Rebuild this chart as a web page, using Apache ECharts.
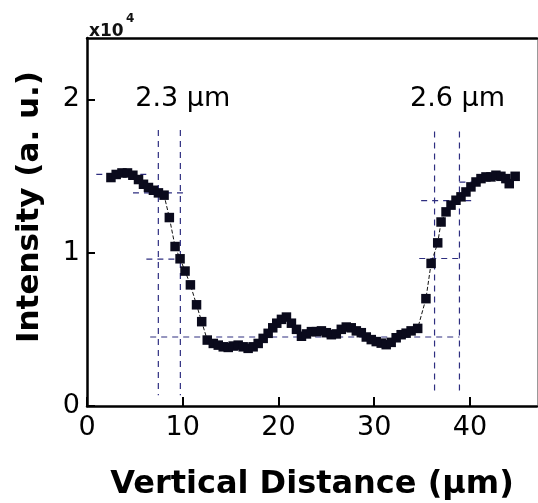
<!DOCTYPE html>
<html>
<head>
<meta charset="utf-8">
<script src="https://cdn.jsdelivr.net/npm/echarts@6/dist/echarts.min.js"></script>
<style>html,body{margin:0;padding:0;background:#fff;}#c{width:538px;height:503px;}</style>
</head>
<body>
<div id="c"></div>
<script>
// Vertical distance (µm) of each sample
const distance = [2.5,3.05,3.65,4.23,4.79,5.38,5.9,6.42,6.94,7.46,8.05,8.6,9.2,9.72,10.24,10.8,11.44,11.98,12.56,13.19,
  13.71,14.23,14.75,15.27,15.79,16.31,16.83,17.35,17.88,18.4,18.92,19.4,19.82,20.31,20.83,21.35,21.88,22.4,22.92,23.44,
  23.96,24.48,25.0,25.52,26.04,26.56,27.08,27.6,28.13,28.65,29.17,29.69,30.21,30.73,31.25,31.77,32.29,32.81,33.33,33.85,
  34.54,35.4,35.94,36.63,36.98,37.5,38.02,38.54,39.06,39.58,40.1,40.63,41.15,41.67,42.19,42.71,43.23,43.75,44.1,44.72];
// Intensity (a. u.)
const intensity = [14900,15100,15200,15200,15050,14770,14460,14250,14070,13900,13750,12290,10400,9600,8800,7900,6600,5500,4300,4080,
  3970,3860,3820,3910,3970,3860,3760,3860,4080,4410,4740,5100,5400,5650,5800,5400,5000,4550,4700,4850,
  4850,4900,4780,4650,4700,5000,5150,5100,4900,4780,4500,4330,4200,4100,4000,4150,4450,4650,4750,4900,
  5060,7000,9300,10640,12000,12660,13100,13420,13640,13960,14290,14610,14830,14940,14940,15050,14980,14830,14500,14980];
// Dashed guide lines: vertical [x, yFrom, yTo], horizontal [y, xFrom, xTo]
const guideVertical = [[7.45,18000,700],[9.75,18000,700],[36.3,17900,1000],[38.9,17900,1000]];
const guideHorizontal = [[15100,0.97,6.4],[13900,4.8,10.45],[9580,6.2,9.3],[4500,6.6,38.9],[9620,34.7,38.9],[13400,34.9,40.3],[14600,38.9,41.5]];
// Width annotations
const widthLabels = ['2.3 \u00b5m','2.6 \u00b5m'];
const widthLabelPos = [[10.0,20000],[38.7,20000]];
const xTicks = [0,10,20,30,40];
const yTicks = [0,1,2];

const FONT = 'DejaVu Sans';
const guideStyle = {color:'#2e2e80', width:1.2, type:[6,5]};
const series = [];
guideVertical.forEach(g => series.push({type:'line', data:[[g[0],g[1]],[g[0],g[2]]], symbol:'none', silent:true, z:1, lineStyle:guideStyle}));
guideHorizontal.forEach(g => series.push({type:'line', data:[[g[1],g[0]],[g[2],g[0]]], symbol:'none', silent:true, z:1, lineStyle:guideStyle}));
series.push({
  type:'line', z:5,
  data: distance.map((d,i)=>[d,intensity[i]]),
  symbol:'rect', symbolSize:9.5, showSymbol:true,
  itemStyle:{color:'#0a0a1c'},
  lineStyle:{color:'#111', width:1, type:'dashed'}
});
series.push({
  type:'scatter', z:6, symbolSize:0,
  itemStyle:{opacity:1},
  data: widthLabelPos.map((p,i)=>({value:p, name:widthLabels[i]})),
  label:{show:true, position:'inside', formatter:p=>p.name, fontSize:27, color:'#000', fontFamily:FONT}
});

const chart = echarts.init(document.getElementById('c'), null, {renderer:'canvas'});
chart.setOption({
  animation:false,
  backgroundColor:'#fff',
  title:[
    {text:'x10', left:84, top:18, textStyle:{fontFamily:FONT, fontWeight:'bold', fontSize:17, color:'#111'}},
    {text:'4', left:121, top:8, textStyle:{fontFamily:FONT, fontWeight:'bold', fontSize:12, color:'#111'}}
  ],
  grid:{left:87, right:1, top:38, bottom:97, containLabel:false, outerBoundsMode:'none'},
  xAxis:[{
    type:'value', min:0, max:47, interval:10,
    axisLine:{onZero:false, lineStyle:{color:'#000', width:2.5}},
    axisTick:{inside:true, length:9, lineStyle:{color:'#000', width:2}},
    axisLabel:{fontSize:27, color:'#000', fontFamily:FONT, margin:8, showMaxLabel:false,
      formatter:v=>xTicks.includes(v)?String(v):''},
    splitLine:{show:false},
    name:'Vertical Distance (\u00b5m)', nameLocation:'middle', nameGap:63,
    nameTextStyle:{fontFamily:FONT, fontWeight:'bold', fontSize:32, color:'#000'}
  },{
    type:'value', position:'top', min:0, max:47,
    axisLine:{show:true, onZero:false, lineStyle:{color:'#000', width:2.5}},
    axisTick:{show:false}, axisLabel:{show:false}, splitLine:{show:false}
  }],
  yAxis:[{
    type:'value', min:0, max:24000, interval:10000,
    axisLine:{show:true, onZero:false, lineStyle:{color:'#000', width:2.5}},
    axisTick:{show:true, inside:true, length:8, lineStyle:{color:'#000', width:2}},
    axisLabel:{fontSize:27, color:'#000', fontFamily:FONT, margin:7, showMaxLabel:false,
      formatter:v=>yTicks.includes(v/10000)?String(v/10000):''},
    splitLine:{show:false},
    name:'Intensity (a. u.)', nameLocation:'middle', nameGap:42, nameRotate:90,
    nameTextStyle:{fontFamily:FONT, fontWeight:'bold', fontSize:31, color:'#000', padding:[0,0,0,30]}
  },{
    type:'value', position:'right', min:0, max:24000,
    axisLine:{show:true, onZero:false, lineStyle:{color:'#999', width:1}},
    axisTick:{show:false}, axisLabel:{show:false}, splitLine:{show:false}
  }],
  series:series
});
</script>
</body>
</html>
